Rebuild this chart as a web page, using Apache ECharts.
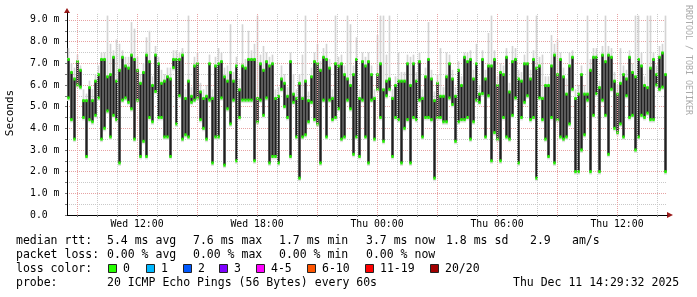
<!DOCTYPE html>
<html><head><meta charset="utf-8">
<script src="https://cdn.jsdelivr.net/npm/echarts@6/dist/echarts.min.js"></script>
<style>html,body{margin:0;padding:0;background:#fff}#c{width:697px;height:297px}</style>
</head><body><div id="c"></div>
<script>
// time base: hours since Wed 00:00
const startHour = 8.5;      // Wed 08:30
const endHour = 38.5;       // Thu 14:30
const stepHours = 0.15;     // 9 minute columns

const medianHigh = [
7.2,6.6,6.3,7.1,6.7,5.3,5.3,5.9,5.3,6.2,6.5,7.2,7.2,6.4,6.5,7.3,6.2,6.7,7.3,6.9,6.8,7.4,7.2,6.7,6.1,6.6,7.4,7.1,6.0,7.4,7.0,6.1,6.2,
6.4,6.3,7.2,7.2,7.2,7.4,5.4,6.2,5.5,6.9,7.0,5.7,5.4,5.5,7.0,5.4,6.9,7.0,7.1,6.4,6.2,6.6,6.2,6.9,5.8,6.9,6.8,7.2,7.2,7.2,5.4,7.0,6.7,7.1,
6.9,7.0,5.4,5.5,6.3,6.1,5.5,7.1,5.6,5.4,6.1,5.4,6.2,5.3,6.4,7.1,7.0,6.7,7.3,7.2,6.8,5.4,7.0,6.9,7.0,6.5,6.3,6.0,6.5,7.2,5.4,7.1,6.9,
7.1,6.5,5.4,6.5,7.0,5.8,6.2,6.3,5.4,6.0,6.2,6.2,6.2,7.0,6.0,7.0,6.2,7.1,5.4,6.4,7.2,6.3,5.3,6.1,5.5,5.5,6.4,7.0,6.3,5.5,6.7,6.0,7.3,7.1,
7.2,6.3,7.0,5.6,7.2,6.3,6.9,6.9,7.2,6.0,6.6,6.5,7.3,5.7,7.1,7.2,6.3,6.2,7.0,7.0,6.3,7.2,6.8,6.9,5.4,6.0,6.0,6.9,7.4,6.5,7.2,6.4,5.6,
6.9,7.3,5.4,5.6,6.5,5.6,5.6,6.7,7.3,7.3,5.9,7.4,7.1,7.4,7.3,6.2,5.6,6.1,6.5,6.3,7.3,6.6,6.4,7.2,6.9,6.0,5.9,6.8,7.2,6.5,7.3,7.5,6.5
];
const medianLow = [
5.4,4.4,3.5,6.0,5.9,4.5,2.7,4.4,4.3,4.6,5.4,3.5,4.0,4.8,3.6,4.6,4.4,2.4,5.3,5.4,5.2,4.9,3.5,5.3,2.7,3.4,2.7,4.5,4.3,5.7,4.5,4.5,3.6,
3.6,2.7,6.8,4.2,5.5,3.5,3.7,3.6,5.2,5.3,5.4,4.4,4.0,3.5,5.3,2.4,3.6,3.6,5.4,2.3,4.9,4.2,5.3,2.5,4.5,5.3,5.3,5.3,5.3,2.5,4.3,5.3,4.6,5.4,
2.4,2.7,2.7,2.4,5.8,5.0,4.5,2.7,5.2,3.6,1.7,3.6,3.7,4.3,5.2,4.4,4.2,2.4,5.3,3.6,5.3,4.4,4.5,4.9,3.5,3.6,5.3,4.9,2.8,3.6,2.7,5.3,3.6,
2.4,5.3,3.5,5.8,4.5,3.4,5.5,5.8,2.7,4.5,4.4,2.4,4.0,4.4,2.4,4.5,4.4,5.3,3.6,4.5,4.5,4.4,1.7,4.5,4.5,4.3,4.3,5.4,5.1,3.4,4.3,4.4,4.4,4.5,
3.5,4.3,5.3,5.2,5.6,3.6,5.5,2.5,3.8,3.5,2.5,4.5,3.6,3.5,4.6,5.4,2.4,4.5,5.2,5.5,4.4,4.5,1.7,5.4,4.4,3.5,2.7,4.5,2.4,4.4,3.6,3.5,3.6,
4.2,5.8,2.0,2.0,3.0,3.7,5.3,2.0,4.6,5.6,2.0,5.3,4.6,2.8,5.8,4.0,3.8,4.2,3.6,5.5,4.5,4.6,3.0,3.6,4.6,4.5,4.7,4.4,4.4,6.0,5.8,5.9,2.0
];
const smokeMax = [
7.7,7.0,6.8,7.4,6.9,5.8,5.6,6.2,5.8,6.5,6.9,7.5,7.5,9.2,7.9,7.6,8.1,7.9,7.6,7.3,7.3,8.9,8.6,7.3,6.5,7.0,8.2,8.5,6.4,7.8,7.3,6.7,6.5,
6.8,6.8,7.6,7.6,7.5,7.7,5.8,9.2,5.9,7.3,7.5,6.1,5.8,6.0,7.4,5.8,7.3,7.7,7.5,6.8,6.9,8.8,6.6,7.3,6.3,8.8,7.2,8.5,7.6,7.9,9.2,7.4,7.8,7.5,
7.3,7.4,5.8,5.9,6.9,6.5,5.9,7.5,6.5,5.8,6.5,7.4,9.2,5.7,6.8,7.5,7.9,7.1,7.7,7.9,7.2,5.8,9.2,7.3,7.4,6.9,9.2,8.8,6.9,8.2,5.8,7.5,7.3,
7.5,6.9,5.8,8.3,9.2,9.2,7.4,9.2,5.8,6.4,7.5,6.6,6.6,7.4,7.3,7.4,6.6,7.5,5.8,6.8,8.9,6.7,5.7,6.5,7.7,5.9,7.5,7.4,6.7,5.9,7.1,6.4,7.5,7.5,
7.6,6.7,7.9,6.0,7.6,6.7,8.4,9.2,7.6,6.4,7.0,6.9,7.7,6.1,7.8,7.7,6.7,6.6,7.4,9.2,6.7,7.6,9.2,7.3,7.4,6.4,6.4,8.3,7.9,8.1,7.5,6.8,6.3,
7.5,7.6,5.8,6.0,6.9,6.0,9.2,7.2,7.7,7.7,6.2,7.8,9.2,7.8,7.7,6.6,6.0,7.7,6.9,6.7,7.6,7.0,9.2,9.2,7.5,6.4,9.2,9.2,7.5,6.9,7.8,7.9,9.2
];

const xTickHours = [12, 18, 24, 30, 36];
const xTickLabels = ['Wed 12:00', 'Wed 18:00', 'Thu 00:00', 'Thu 06:00', 'Thu 12:00'];
const majorGridHours = [9, 12, 15, 18, 21, 24, 27, 30, 33, 36];
const minorGridHours = [10, 11, 13, 14, 16, 17, 19, 20, 22, 23, 25, 26, 28, 29, 31, 32, 34, 35, 37, 38];

const statsRtt = ['5.4 ms avg', '7.6 ms max', '1.7 ms min', '3.7 ms now', '1.8 ms sd', '2.9', 'am/s'];
const statsLoss = ['0.00 % avg', '0.00 % max', '0.00 % min', '0.00 % now'];
const lossLabels = ['0', '1', '2', '3', '4-5', '6-10', '11-19', '20/20'];
const lossColors = ['#26ff00', '#00b8ff', '#0059ff', '#7e00ff', '#ff00ff', '#ff5500', '#ff0000', '#a10000'];
const probeText = '20 ICMP Echo Pings (56 Bytes) every 60s';
const stampText = 'Thu Dec 11 14:29:32 2025';

const MONO = '"DejaVu Sans Mono", monospace';
const data = medianHigh.map((h, i) => [startHour + stepHours * (i + 0.5), medianLow[i], h, smokeMax[i]]);

function renderItem(params, api) {
  const t = api.value(0);
  const pLo = api.coord([t, api.value(1)]);
  const pHi = api.coord([t, api.value(2)]);
  const pSm = api.coord([t, api.value(3)]);
  const colW = api.size([stepHours, 0])[0];
  const bw = colW * 0.8;
  const sw = colW * 0.55;
  const x = pLo[0] - bw / 2;
  return {
    type: 'group',
    children: [
      { type: 'rect', shape: { x: pLo[0] - sw / 2, y: pSm[1], width: sw, height: pHi[1] - pSm[1] + 2 }, style: { fill: '#d4d4d4' } },
      { type: 'rect', shape: { x: x - 0.3, y: pHi[1] - 1, width: bw + 0.6, height: pLo[1] - pHi[1] + 4 }, style: { fill: '#e2e2e2' } },
      { type: 'rect', shape: { x: x, y: pHi[1], width: bw, height: pLo[1] - pHi[1] }, style: { fill: '#202020' } },
      { type: 'rect', shape: { x: x, y: pHi[1] - 1, width: bw, height: 3 }, style: { fill: '#22f000' } },
      { type: 'rect', shape: { x: x, y: pLo[1] - 1.5, width: bw, height: 3 }, style: { fill: '#22f000' } }
    ]
  };
}

const graphics = [];
function txt(s, x, y, size, extra) {
  graphics.push(Object.assign({
    type: 'text', x: x, y: y, silent: true,
    style: { text: s, font: size + 'px ' + MONO, fill: '#000', align: 'left', verticalAlign: 'middle' }
  }, extra || {}));
}
// legend rows
const rttX = [107, 193, 279, 366, 446, 530, 572];
txt('median rtt:', 16, 241.5, 11.5);
statsRtt.forEach((s, i) => txt(s, rttX[i], 241.5, 11.5));
txt('packet loss:', 16, 255.5, 11.5);
statsLoss.forEach((s, i) => txt(s, rttX[i], 255.5, 11.5));
txt('loss color:', 16, 269.5, 11.5);
const boxX = [108, 146, 183, 219, 256, 307, 365, 430];
lossLabels.forEach((s, i) => {
  graphics.push({ type: 'rect', silent: true, shape: { x: boxX[i] + 0.5, y: 264.5, width: 8, height: 8 },
    style: { fill: lossColors[i], stroke: '#222', lineWidth: 1 } });
  txt(s, boxX[i] + 15, 269.5, 11.5);
});
txt('probe:', 16, 283, 11.5);
txt(probeText, 107, 283, 11.5);
txt(stampText, 513, 283, 11.5);
// axis title
graphics.push({ type: 'text', x: 10, y: 113, rotation: Math.PI / 2, silent: true,
  style: { text: 'Seconds', font: '11px ' + MONO, fill: '#000', align: 'center', verticalAlign: 'middle' } });
// watermark
graphics.push({ type: 'text', x: 688, y: 5, rotation: -Math.PI / 2, silent: true,
  style: { text: 'RRDTOOL / TOBI OETIKER', font: '8.3px ' + MONO, fill: '#aaaaaa', align: 'left', verticalAlign: 'middle' } });
// axis arrows
graphics.push({ type: 'polygon', silent: true, shape: { points: [[64, 13], [70, 13], [67, 8]] }, style: { fill: '#9b1b1b' } });
graphics.push({ type: 'polygon', silent: true, shape: { points: [[667, 212], [667, 218], [673, 215]] }, style: { fill: '#9b1b1b' } });

const chart = echarts.init(document.getElementById('c'), null, { renderer: 'canvas' });
chart.setOption({
  animation: false,
  backgroundColor: '#ffffff',
  grid: { left: 67, right: 30, top: 13, bottom: 82, containLabel: false },
  xAxis: {
    type: 'value', min: startHour, max: endHour,
    axisLine: { show: true, onZero: false, lineStyle: { color: '#000', width: 1 } },
    axisTick: { show: true, customValues: majorGridHours.concat(minorGridHours), length: 2, lineStyle: { color: '#777' } },
    splitLine: { show: false },
    axisLabel: {
      customValues: xTickHours, margin: 4, color: '#000', fontFamily: MONO, fontSize: 9.8,
      formatter: v => { const i = xTickHours.indexOf(Math.round(v)); return i >= 0 ? xTickLabels[i] : ''; }
    }
  },
  yAxis: {
    type: 'value', min: 0, max: 9.32, interval: 0.5,
    axisLine: { show: true, lineStyle: { color: '#000', width: 1 } },
    axisTick: { show: true, length: 2, lineStyle: { color: '#777' } },
    splitLine: { show: true, showMaxLine: false, lineStyle: { color: ['#e7a3a3', '#c9c9c9'], type: [1, 1], width: 1 } },
    axisLabel: {
      margin: 7.5, color: '#000', fontFamily: MONO, fontSize: 9.8, showMaxLabel: false,
      formatter: v => {
        if (Math.abs(v - Math.round(v)) > 1e-6 || v > 9.01) return '';
        return v === 0 ? '0.0  ' : v.toFixed(1) + ' m';
      }
    }
  },
  graphic: graphics,
  series: [
    { type: 'line', data: [], z: 1, silent: true,
      markLine: { silent: true, symbol: ['none', 'none'], label: { show: false },
        lineStyle: { color: '#c9c9c9', type: [1, 1], width: 1 },
        data: minorGridHours.map(h => ({ xAxis: h })) } },
    { type: 'line', data: [], z: 1, silent: true,
      markLine: { silent: true, symbol: ['none', 'none'], label: { show: false },
        lineStyle: { color: '#e7a3a3', type: [1, 1], width: 1 },
        data: majorGridHours.map(h => ({ xAxis: h })) } },
    { type: 'custom', z: 3, renderItem: renderItem, data: data, clip: true,
      encode: { x: 0, y: [1, 2, 3] } }
  ]
});
</script>
</body></html>
